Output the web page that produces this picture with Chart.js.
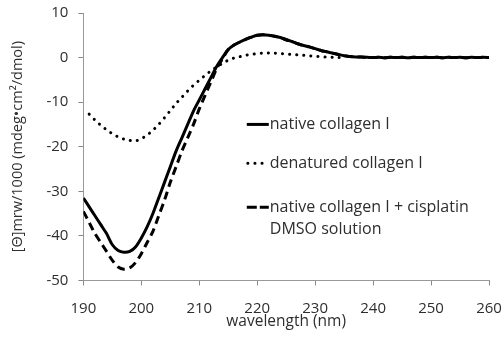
<!DOCTYPE html>
<html>
<head>
<meta charset="utf-8">
<script src="https://cdn.jsdelivr.net/npm/chart.js@4"></script>
<style>
html,body{margin:0;padding:0;background:#fff;}
#wrap{width:502px;height:344px;position:relative;}
</style>
</head>
<body>
<div id="wrap"><canvas id="c" width="502" height="344"></canvas></div>
<script>
// wavelengths (nm)
const wavelengths = [190,191,192,193,194,195,196,197,198,199,200,201,202,203,204,205,206,207,208,209,210,211,212,213,214,215,216,217,218,219,220,221,222,223,224,225,226,227,228,229,230,231,232,233,234,235,236,237,238,239,240,241,242,243,244,245,246,247,248,249,250,251,252,253,254,255,256,257,258,259,260];
const nativeValues = [-31.5,-33.5,-35.5,-37.5,-39.5,-42,-43.3,-43.7,-43.5,-42.5,-40.5,-38,-35,-31.5,-28,-24.5,-21,-18,-15,-12,-9.5,-7,-4.5,-2,0,1.8,2.8,3.5,4.1,4.6,5.0,5.1,5.0,4.8,4.5,4.0,3.6,3.1,2.7,2.4,2.0,1.6,1.3,1.0,0.7,0.4,0.25,0.15,0.1,0.05,0,0.05,-0.05,0.05,0,0.05,-0.05,0.05,0,0.05,0,0.05,-0.05,0.05,0,0.05,-0.05,0.05,0,0.05,0];
const cisplatinValues = [-34.5,-37,-39.5,-41.5,-43.5,-45.5,-47,-47.5,-47.2,-46,-44,-41.5,-39,-35.5,-32,-28,-24.5,-21,-18,-15,-11.5,-8.5,-5.5,-2.5,-0.3,1.8,2.8,3.5,4.1,4.6,5.0,5.1,5.0,4.8,4.5,4.0,3.6,3.1,2.7,2.4,2.0,1.6,1.3,1.0,0.7,0.4,0.25,0.15,0.1,0.05,0,0.05,-0.05,0.05,0,0.05,-0.05,0.05,0,0.05,0,0.05,-0.05,0.05,0,0.05,-0.05,0.05,0,0.05,0];
const denaturedWavelengths = [191,192,193,194,195,196,197,198,199,200,201,202,203,204,205,206,207,208,209,210,211,212,213,214,215,216,217,218,219,220,221,222,223,224,225,226,227,228,229,230,231,232,233,234,235];
const denaturedValues = [-12.7,-14,-15.2,-16.2,-17.1,-17.8,-18.3,-18.6,-18.7,-18.2,-17.4,-16.3,-15,-13.5,-11.9,-10.3,-8.9,-7.5,-6.2,-5.1,-4,-3,-2.1,-1.3,-0.6,-0.1,0.2,0.5,0.7,0.9,1.0,1.0,1.0,0.9,0.8,0.7,0.6,0.5,0.4,0.3,0.2,0.1,0.05,0,0];
const seriesLabels = [["native collagen I"],["denatured collagen I"],["native collagen I + cisplatin","DMSO solution"]];
const xTicks = [190,200,210,220,230,240,250,260];
const yTicks = [-50,-40,-30,-20,-10,0,10];
const xTitle = "wavelength (nm)";
const yTitle = "[Θ]mrw/1000 (mdeg\u2022cm\u00B2/dmol)";

const FONT = "'Open Sans', sans-serif";
const TXT = '#2e2e2e';

function pts(xs, ys){ return xs.map((x,i)=>({x:x,y:ys[i]})); }

const legendPlugin = {
  id:'inlineLegend',
  afterDraw(chart){
    const ctx = chart.ctx;
    const xs = chart.scales.x, ys = chart.scales.y;
    const rowVals = [-15.0,-23.7,-33.6];
    const x0 = xs.getPixelForValue(218.2);
    const lineLen = 22;
    ctx.save();
    ctx.font = "16px " + FONT;
    ctx.textBaseline = 'middle';
    chart.data.datasets.forEach((ds,i)=>{
      const y = ys.getPixelForValue(rowVals[i]);
      ctx.strokeStyle = ds.borderColor;
      ctx.lineWidth = ds.borderWidth;
      ctx.lineCap = ds.borderCapStyle || 'butt';
      ctx.setLineDash(ds.legendDash || ds.borderDash || []);
      ctx.beginPath();
      ctx.moveTo(x0 + (ds.legendOffset||0), y);
      ctx.lineTo(x0 + lineLen, y);
      ctx.stroke();
      ctx.setLineDash([]);
      ctx.fillStyle = TXT;
      const lines = seriesLabels[i];
      lines.forEach((t,j)=>{
        ctx.fillText(t, x0 + lineLen + 1, y + j*21.7);
      });
    });
    ctx.restore();
  }
};

new Chart(document.getElementById('c'), {
  type:'line',
  data:{
    datasets:[
      {label:seriesLabels[0].join(' '), data:pts(wavelengths,nativeValues), borderColor:'#000', borderWidth:3, pointRadius:0, tension:0.3, fill:false},
      {label:seriesLabels[1].join(' '), data:pts(denaturedWavelengths,denaturedValues), borderColor:'#000', borderWidth:3, borderDash:[0.1,7], borderCapStyle:'round', legendDash:[0.1,7], legendOffset:1, pointRadius:0, tension:0.3, fill:false},
      {label:seriesLabels[2].join(' '), data:pts(wavelengths,cisplatinValues), borderColor:'#000', borderWidth:3, borderDash:[8,5], legendDash:[10,3], pointRadius:0, tension:0.3, fill:false}
    ]
  },
  options:{
    responsive:false,
    animation:false,
    devicePixelRatio:1,
    layout:{padding:{left:3,right:13,top:13,bottom:13}},
    plugins:{legend:{display:false},tooltip:{enabled:false},title:{display:false}},
    scales:{
      x:{
        type:'linear', min:190, max:260,
        afterBuildTicks(ax){ ax.ticks = xTicks.map(v=>({value:v})); },
        afterFit(ax){ ax.paddingLeft = 0; ax.paddingRight = 0; },
        grid:{display:true, drawOnChartArea:false, drawTicks:true, tickLength:5, color:'#888', lineWidth:1},
        border:{display:true, color:'#999', width:1},
        ticks:{color:TXT, font:{family:FONT,size:15}, padding:14, maxRotation:0},
        title:{display:true, text:xTitle, color:TXT, font:{family:FONT,size:15.5}, padding:{top:-19,bottom:0}}
      },
      y:{
        type:'linear', min:-50, max:10,
        afterBuildTicks(ax){ ax.ticks = yTicks.map(v=>({value:v})); },
        afterFit(ax){ ax.paddingTop = 0; ax.paddingBottom = 0; },
        grid:{display:true, drawOnChartArea:false, drawTicks:true, tickLength:5, color:'#888', lineWidth:1},
        border:{display:true, color:'#999', width:1},
        ticks:{color:TXT, font:{family:FONT,size:15}, padding:10},
        title:{display:true, text:yTitle, color:TXT, font:{family:FONT,size:14.5}, padding:{top:6,bottom:10}}
      }
    }
  },
  plugins:[legendPlugin]
});
</script>
</body>
</html>
